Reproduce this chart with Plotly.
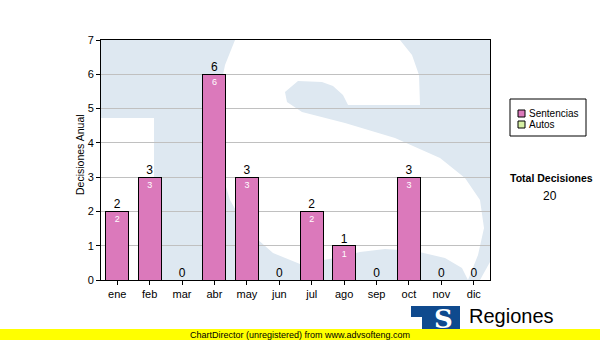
import plotly.graph_objects as go

# ---------------- data ----------------
months = ["ene", "feb", "mar", "abr", "may", "jun", "jul", "ago", "sep", "oct", "nov", "dic"]
sentencias = [2, 3, 0, 6, 3, 0, 2, 1, 0, 3, 0, 0]
autos = [0, 0, 0, 0, 0, 0, 0, 0, 0, 0, 0, 0]
y_ticks = [0, 1, 2, 3, 4, 5, 6, 7]
series_names = ["Sentencias", "Autos"]
total_label = "Total Decisiones"
y_title = "Decisiones Anual"
footer_text = "ChartDirector (unregistered) from www.advsofteng.com"
logo_text = "Regiones"

total = sum(sentencias) + sum(autos)

# ---------------- layout helpers ----------------
W, H = 600, 340
L, R, T, B = 101, 490, 40, 280
FONT = "Liberation Sans, Arial, sans-serif"
BG_BLUE = "#dee8f1"
PINK = "#db79bb"
GREEN = "#d6f0a4"
series_colors = [PINK, GREEN]


def px(x):
    return (x - L) / (R - L)


def py(y):
    return (B - y) / (B - T)


def poly(pts):
    return "M " + " L ".join(f"{px(x):.4f},{py(y):.4f}" for x, y in pts) + " Z"


def rect(x0, y0, x1, y1, fill, layer="above", line=None):
    d = dict(type="rect", xref="paper", yref="paper", x0=px(x0), x1=px(x1), y0=py(y1), y1=py(y0),
             fillcolor=fill, layer=layer)
    d["line"] = line if line else dict(width=0)
    return d


def label(text, x, y, size, color="black", family=FONT, xanchor="center", angle=0):
    return dict(text=text, x=px(x), y=py(y), xref="paper", yref="paper", showarrow=False,
                xanchor=xanchor, yanchor="middle", textangle=angle,
                font=dict(size=size, color=color, family=family))


# watermark (white cut-outs over the light blue plot background)
s_pts = [(235, 40), (400, 40), (412, 55), (419, 75), (420, 105), (348, 105), (343, 95),
         (333, 86), (322, 82), (298, 81), (285, 92), (287, 102), (302, 112), (345, 123),
         (395, 138), (440, 158), (465, 178), (480, 200), (484, 228), (478, 255), (468, 280),
         (462, 268), (445, 258), (415, 251), (385, 249), (360, 252), (335, 258), (300, 264),
         (273, 253), (247, 230), (230, 200), (220, 167), (217, 130), (218, 100), (225, 65)]
corner_pts = [(480, 280), (490, 262), (490, 280)]

shapes = [
    rect(L, 118, 154, 280, "white", layer="below"),
    dict(type="path", xref="paper", yref="paper", path=poly(s_pts),
         fillcolor="white", line_width=0, layer="below"),
    dict(type="path", xref="paper", yref="paper", path=poly(corner_pts),
         fillcolor="white", line_width=0, layer="below"),
    # legend box and swatches
    rect(510, 99, 586, 136, "white", line=dict(color="black", width=1)),
    rect(518, 110, 525, 117, series_colors[0], line=dict(color="black", width=1)),
    rect(518, 121, 525, 128, series_colors[1], line=dict(color="black", width=1)),
    # logo
    rect(411, 306, 460, 330, "#0f4a8e"),
    rect(411, 317, 422, 330, "white"),
    # yellow footer
    rect(0, 329, 600, 340, "#ffff00"),
]

annotations = [
    label(y_title, 80, 155, 10.5, angle=-90),
    label(series_names[0], 527, 113.5, 10, xanchor="left"),
    label(series_names[1], 527, 124.5, 10, xanchor="left"),
    label(f"<b>{total_label}</b>", 551, 178, 10.5),
    label(str(total), 550, 196, 12),
    label("<b>S</b>", 443, 319, 26, color="white", family="DejaVu Serif"),
    label(logo_text, 467, 316, 20, xanchor="left"),
    label(footer_text, 300, 334.5, 9),
]

fig = go.Figure()

fig.add_trace(go.Bar(
    x=months, y=sentencias, name=series_names[0],
    marker=dict(color=series_colors[0], line=dict(color="black", width=1)),
    text=[str(v) if v else "" for v in sentencias],
    textposition="inside", insidetextanchor="end", textangle=0,
    textfont=dict(color="white", size=9, family=FONT),
    hoverinfo="skip", showlegend=False,
))
fig.add_trace(go.Bar(
    x=months, y=[v if v else None for v in autos], name=series_names[1],
    marker=dict(color=series_colors[1], line=dict(color="black", width=1)),
    hoverinfo="skip", showlegend=False,
))
fig.add_trace(go.Scatter(
    x=months, y=[s + a for s, a in zip(sentencias, autos)], mode="text",
    text=[str(s + a) for s, a in zip(sentencias, autos)], textposition="top center",
    textfont=dict(color="black", size=12, family=FONT),
    showlegend=False, hoverinfo="skip", cliponaxis=False,
))

fig.update_layout(
    width=W, height=H,
    margin=dict(l=L, r=W - R, t=T, b=H - B, pad=0),
    paper_bgcolor="white", plot_bgcolor=BG_BLUE,
    barmode="stack", bargap=0.29,
    font=dict(family=FONT, size=11, color="black"),
    shapes=shapes, annotations=annotations,
    showlegend=False,
    xaxis=dict(type="category", range=[-0.5, 11.5], showgrid=False, showline=True,
               linecolor="black", linewidth=1, mirror=True, ticks="outside", ticklen=4,
               tickcolor="black", tickfont=dict(size=11, family=FONT, color="black")),
    yaxis=dict(range=[0, 7], tickvals=y_ticks, showgrid=True, gridcolor="#c0c0c0",
               gridwidth=1, zeroline=False, showline=True, linecolor="black", linewidth=1,
               mirror=True, ticks="outside", ticklen=4, tickcolor="black",
               tickfont=dict(size=11, family=FONT, color="black")),
)

fig.write_html("out.html")
